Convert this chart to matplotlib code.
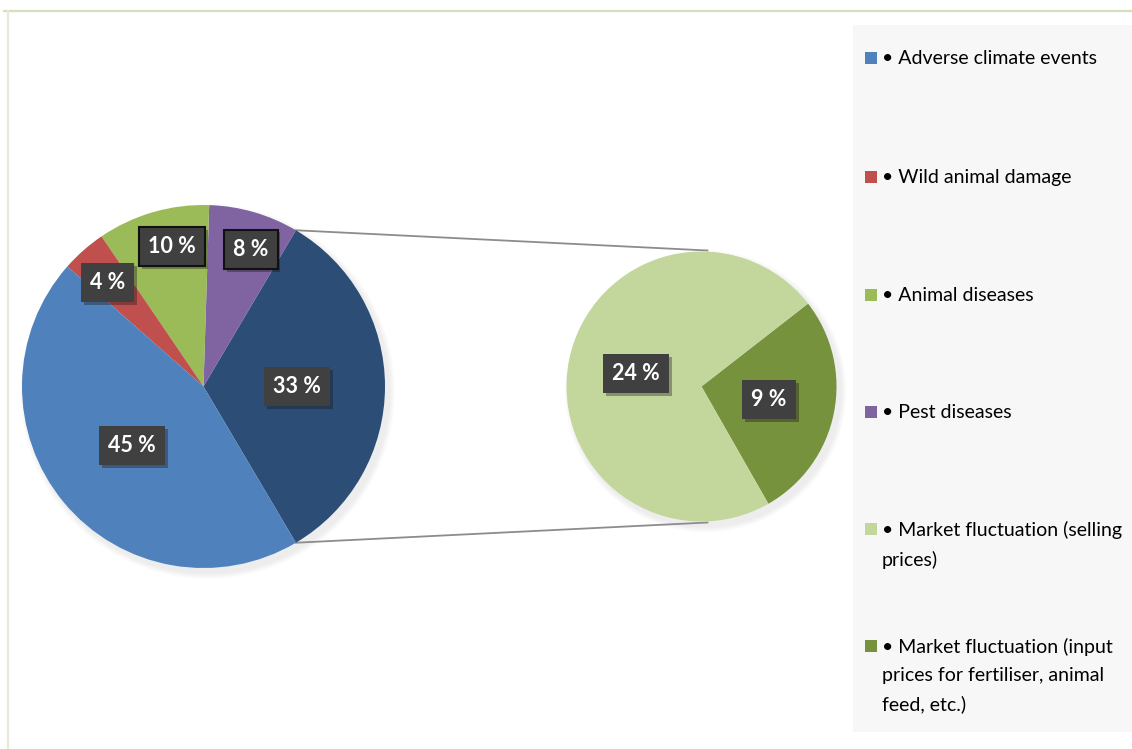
import numpy as np
import matplotlib
matplotlib.use("Agg")
import matplotlib.pyplot as plt
from matplotlib.patches import Rectangle, Circle
import matplotlib.patheffects as pe

# ---- data ----
main_labels = ["Adverse climate events", "Wild animal damage", "Animal diseases", "Pest diseases"]
main_values = [45, 4, 10, 8]
other_labels = ["Market fluctuation (selling prices)",
                "Market fluctuation (input prices for fertiliser, animal feed, etc.)"]
other_values = [24, 9]
legend_texts = ["• Adverse climate events",
                "• Wild animal damage",
                "• Animal diseases",
                "• Pest diseases",
                "• Market fluctuation (selling\nprices)",
                "• Market fluctuation (input\nprices for fertiliser, animal\nfeed, etc.)"]

main_colors = ["#4f81bd", "#c0504d", "#9bbb59", "#8064a2"]
other_color = "#2c4d75"
sub_colors = ["#c3d69b", "#76923c"]

W, H = 1132, 749
fig = plt.figure(figsize=(W / 100, H / 100), dpi=100)
ax = fig.add_axes([0, 0, 1, 1])

FONT = "Lato"

cL = (203.5, H - 386.5)
rL = 181.5
cR = (701.5, H - 386.5)
rR = 135.0

# ---- left pie: other slice (sum of sub values) first, centered at 0 deg ----
other_total = sum(other_values)
left_vals = [other_total] + [main_values[3], main_values[2], main_values[1], main_values[0]]
left_cols = [other_color, main_colors[3], main_colors[2], main_colors[1], main_colors[0]]
total = sum(left_vals)
start_left = -other_total / total * 360 / 2

# soft shadows
for k in range(6):
    for (c, r) in [(cL, rL), (cR, rR)]:
        ax.add_patch(Circle((c[0] + 4, c[1] - 5), r + 6 - k, facecolor="#000000",
                            alpha=0.012, edgecolor="none", zorder=2))

wl, _ = ax.pie(left_vals, colors=left_cols, startangle=start_left, counterclock=True,
               center=cL, radius=rL, frame=True, wedgeprops=dict(linewidth=0, zorder=3))

# ---- right pie ----
right_vals = [other_values[1], other_values[0]]
right_cols = [sub_colors[1], sub_colors[0]]
start_right = -60.3
wr, _ = ax.pie(right_vals, colors=right_cols, startangle=start_right, counterclock=True,
               center=cR, radius=rR, frame=True, wedgeprops=dict(linewidth=0, zorder=3))

ax.set_xlim(0, W)
ax.set_ylim(0, H)
ax.set_aspect("equal")
ax.axis("off")

# frame lines
ax.plot([4, W], [H - 11, H - 11], color="#d3e0bc", lw=1.6, zorder=1)
ax.plot([8, 8], [H - 11, 0], color="#e6eadb", lw=1.6, zorder=1)

# legend background
ax.add_patch(Rectangle((853, H - 732), W - 853, 732 - 25, facecolor="#f7f7f7",
                       edgecolor="none", zorder=1))

# connector lines from other-slice edges to top/bottom of right pie
w0 = wl[0]
for ang, yR in [(w0.theta2, cR[1] + rR + 1), (w0.theta1, cR[1] - rR - 1)]:
    x0 = cL[0] + rL * np.cos(np.radians(ang))
    y0 = cL[1] + rL * np.sin(np.radians(ang))
    ax.plot([x0, cR[0] + 6], [y0, yR], color="#8c8c8c", lw=1.3, zorder=2)

# data labels
def label(w, c, r, frac, dang, text, edge=False):
    mid = np.radians((w.theta1 + w.theta2) / 2 + dang)
    x = c[0] + frac * r * np.cos(mid)
    y = c[1] + frac * r * np.sin(mid)
    t = ax.text(x, y, text, ha="center", va="center", color="white", fontsize=15.5,
                fontweight="bold", family=FONT, zorder=6,
                bbox=dict(boxstyle="square,pad=0.42", facecolor="#404040",
                          edgecolor="#111111" if edge else "none", linewidth=1.5))
    t.get_bbox_patch().set_path_effects([pe.SimplePatchShadow(offset=(2, -2), alpha=0.35),
                                         pe.Normal()])

fracs_left = [0.515, 0.80, 0.79, 0.78, 0.51]
dang_left = [0, -2.8, -3.6, 1.3, 0]
edges_left = [False, True, True, False, False]
for w, v, f, d, e in zip(wl, left_vals, fracs_left, dang_left, edges_left):
    label(w, cL, rL, f, d, f"{v} %", e)
for w, v, f in zip(wr, right_vals, [0.51, 0.495]):
    label(w, cR, rR, f, 0, f"{v} %")

# legend
leg_cols = main_colors + sub_colors
leg_y = [58, 177, 295, 412, 529, 646]
for col, txt, yp in zip(leg_cols, legend_texts, leg_y):
    ax.add_patch(Rectangle((865, H - yp - 6), 12, 12, facecolor=col, edgecolor="none", zorder=4))
    ax.text(882, H - yp + 8, txt, ha="left", va="top", fontsize=14, family=FONT,
            color="#000000", zorder=4, linespacing=1.78)

fig.savefig("out.png", dpi=100, facecolor="white")
